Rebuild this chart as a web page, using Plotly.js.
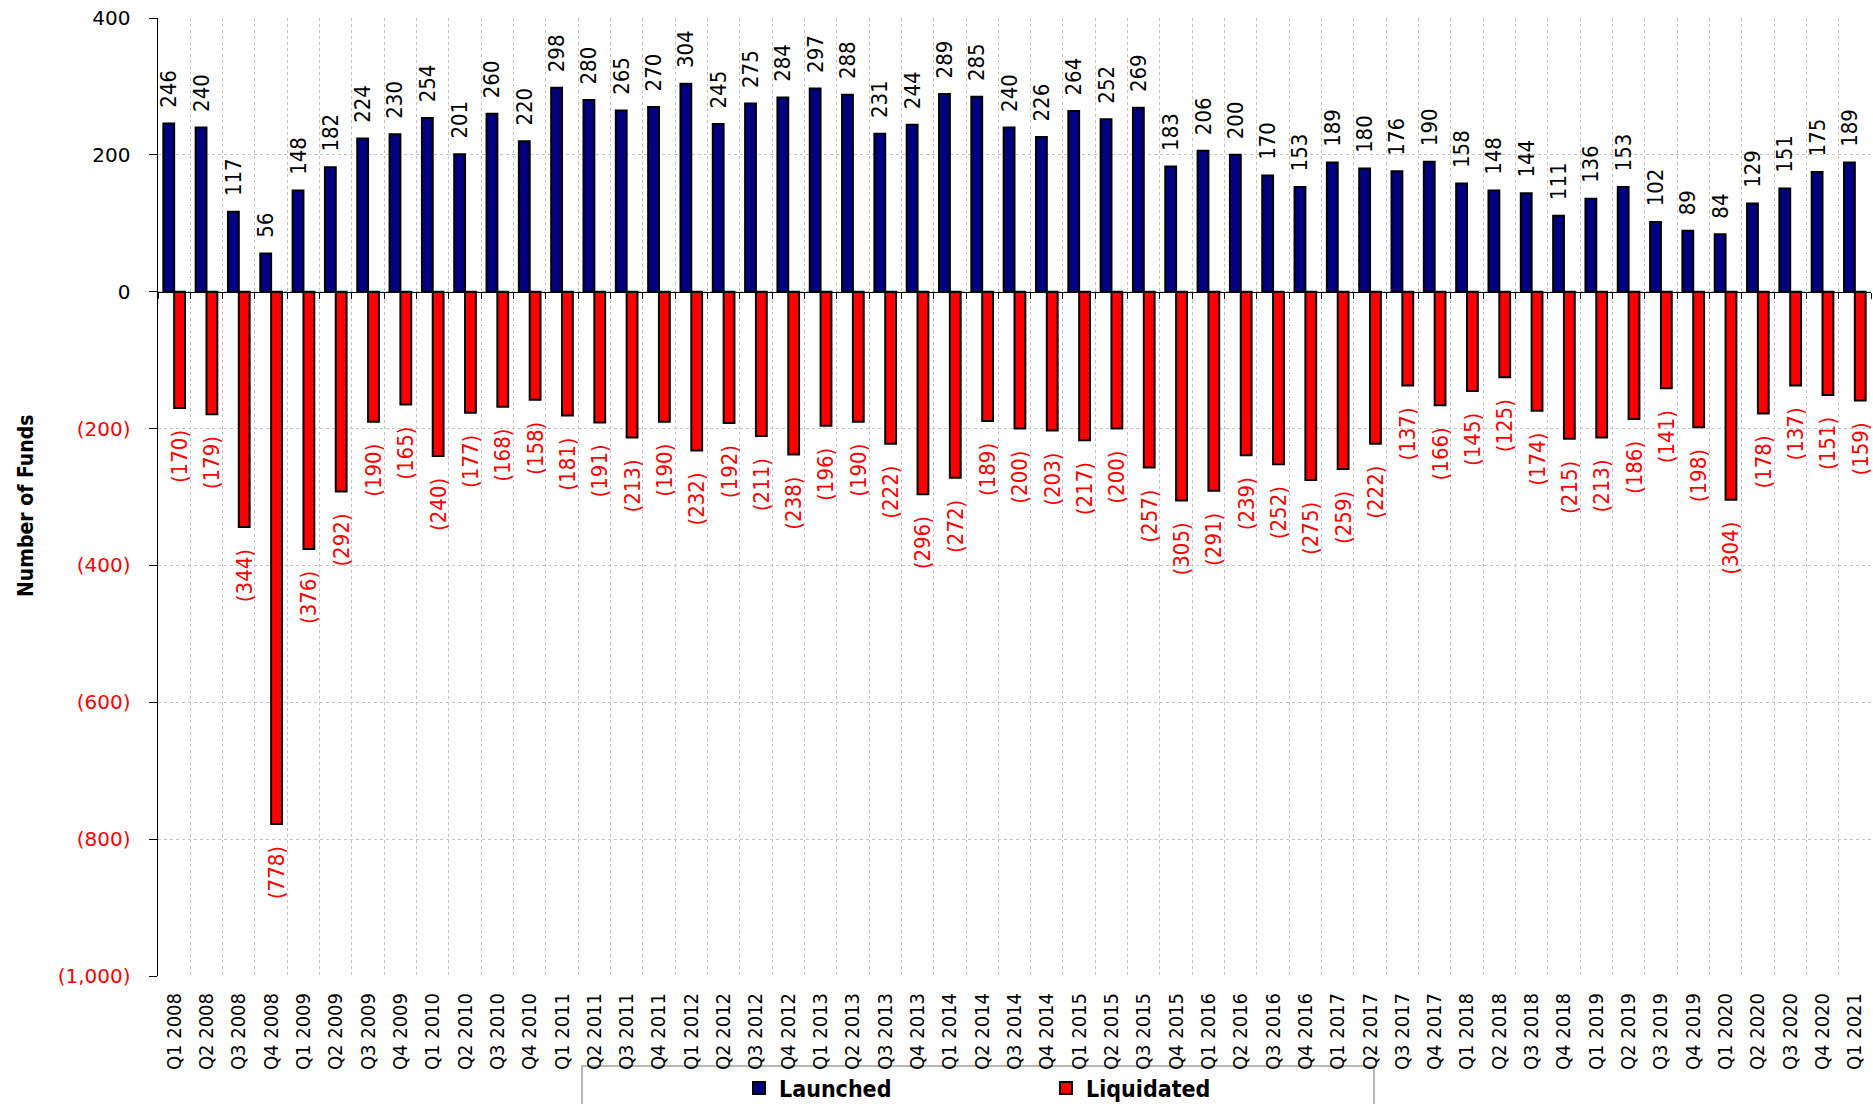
<!DOCTYPE html>
<html>
<head>
<meta charset="utf-8">
<script src="https://cdn.plot.ly/plotly-3.0.1.min.js"></script>
<style>html,body{margin:0;padding:0;background:#fff;}#chart{width:1873px;height:1104px;}</style>
</head>
<body>
<div id="chart"></div>
<script>
const quarters = ["Q1 2008","Q2 2008","Q3 2008","Q4 2008","Q1 2009","Q2 2009","Q3 2009","Q4 2009",
"Q1 2010","Q2 2010","Q3 2010","Q4 2010","Q1 2011","Q2 2011","Q3 2011","Q4 2011",
"Q1 2012","Q2 2012","Q3 2012","Q4 2012","Q1 2013","Q2 2013","Q3 2013","Q4 2013",
"Q1 2014","Q2 2014","Q3 2014","Q4 2014","Q1 2015","Q2 2015","Q3 2015","Q4 2015",
"Q1 2016","Q2 2016","Q3 2016","Q4 2016","Q1 2017","Q2 2017","Q3 2017","Q4 2017",
"Q1 2018","Q2 2018","Q3 2018","Q4 2018","Q1 2019","Q2 2019","Q3 2019","Q4 2019",
"Q1 2020","Q2 2020","Q3 2020","Q4 2020","Q1 2021"];
const launched = [246,240,117,56,148,182,224,230,254,201,260,220,298,280,265,270,
304,245,275,284,297,288,231,244,289,285,240,226,264,252,269,183,
206,200,170,153,189,180,176,190,158,148,144,111,136,153,102,89,
84,129,151,175,189];
const liquidated = [-170,-179,-344,-778,-376,-292,-190,-165,-240,-177,-168,-158,-181,-191,-213,-190,
-232,-192,-211,-238,-196,-190,-222,-296,-272,-189,-200,-203,-217,-200,-257,-305,
-291,-239,-252,-275,-259,-222,-137,-166,-145,-125,-174,-215,-213,-186,-141,-198,
-304,-178,-137,-151,-159];
const yTickVals = [-1000,-800,-600,-400,-200,0,200,400];

function fmt(v){ const s = Math.abs(v).toLocaleString('en-US'); return v < 0 ? '(' + s + ')' : s; }
const NB = '\u00a0';
const yTickText = yTickVals.map(v => v < 0 ? '<span style="color:#ff0000">' + fmt(v) + '</span>' : fmt(v));

const narrow = '"Liberation Sans Narrow", "Arial Narrow", "DejaVu Sans Condensed", sans-serif';

const L = 158, R = 1871, T = 18, B = 976;
const px = x => (x - L) / (R - L);
const py = y => (B - y) / (B - T);

const traces = [
  {type:'bar', name:'Launched', x: quarters, y: launched,
   marker:{color:'#000080', line:{color:'#000000', width:2}},
   text: launched.map(v => NB + NB + fmt(v)), textposition:'outside', textangle:-90,
   constraintext:'none', cliponaxis:false,
   textfont:{family: narrow, size:22, color:'#000000'}, hoverinfo:'x+y'},
  {type:'bar', name:'Liquidated', x: quarters, y: liquidated,
   marker:{color:'#ff0000', line:{color:'#000000', width:2}},
   text: liquidated.map(v => fmt(v) + NB + NB + NB), textposition:'outside', textangle:-90,
   constraintext:'none', cliponaxis:false,
   textfont:{family: narrow, size:22, color:'#ff0000'}, hoverinfo:'x+y'},
  {type:'scatter', mode:'markers', x: quarters, y: launched.map(() => 0), xaxis:'x2', yaxis:'y',
   marker:{opacity:0}, showlegend:false, hoverinfo:'skip'}
];

const layout = {
  width:1873, height:1104,
  margin:{l:L, r:1873-R, t:T, b:1104-B, pad:0, autoexpand:false},
  paper_bgcolor:'#ffffff', plot_bgcolor:'#ffffff',
  barmode:'group', bargap:0.33, bargroupgap:0,
  showlegend:true,
  legend:{orientation:'h', x:px(739), xanchor:'left', y:py(1088), yanchor:'middle',
    font:{family: narrow, size:23, color:'#000000', weight:'bold'}, bgcolor:'rgba(0,0,0,0)',
    entrywidth:262, itemwidth:30, traceorder:'normal'},
  xaxis:{type:'category', categoryorder:'array', categoryarray: quarters, range:[-0.5, 52.5],
    tickson:'boundaries', ticks:'', showline:false, zeroline:false,
    showgrid:true, gridcolor:'#c4c4c4', griddash:'dot', gridwidth:1,
    tickangle:-90, ticklabelstandoff:12, automargin:false,
    tickfont:{family: narrow, size:20, color:'#000000'}},
  xaxis2:{type:'category', overlaying:'x', anchor:'free', position:1000/1400,
    categoryorder:'array', categoryarray: quarters, range:[-0.5, 52.5], matches:'x',
    tickson:'boundaries', ticks:'outside', ticklen:6, tickcolor:'#000000', tickwidth:1,
    showline:true, linecolor:'#000000', linewidth:1.5, showticklabels:false, showgrid:false, zeroline:false},
  yaxis:{range:[-1000, 400], tickvals: yTickVals, ticktext: yTickText,
    showline:true, linecolor:'#000000', linewidth:1.5, ticks:'outside', ticklen:8, tickcolor:'#000000',
    showgrid:true, gridcolor:'#c4c4c4', griddash:'dot', gridwidth:1, zeroline:false,
    ticklabelstandoff:14, automargin:false,
    tickfont:{family:'"DejaVu Sans", Verdana, sans-serif', size:20, color:'#000000'}},
  annotations:[
    {text:'<b>Number of Funds</b>', xref:'paper', yref:'paper', x:px(26), y:py(506),
     xanchor:'center', yanchor:'middle', textangle:-90, showarrow:false,
     font:{family: narrow, size:21, color:'#000000'}}
  ],
  shapes:[
    {type:'rect', xref:'paper', yref:'paper', x0:px(582), x1:px(1374), y0:py(1066), y1:py(1120),
     line:{color:'#a0a0a0', width:1.5}, fillcolor:'rgba(0,0,0,0)', layer:'below'}
  ]
};

Plotly.newPlot('chart', traces, layout, {displayModeBar:false, staticPlot:true});
</script>
</body>
</html>
